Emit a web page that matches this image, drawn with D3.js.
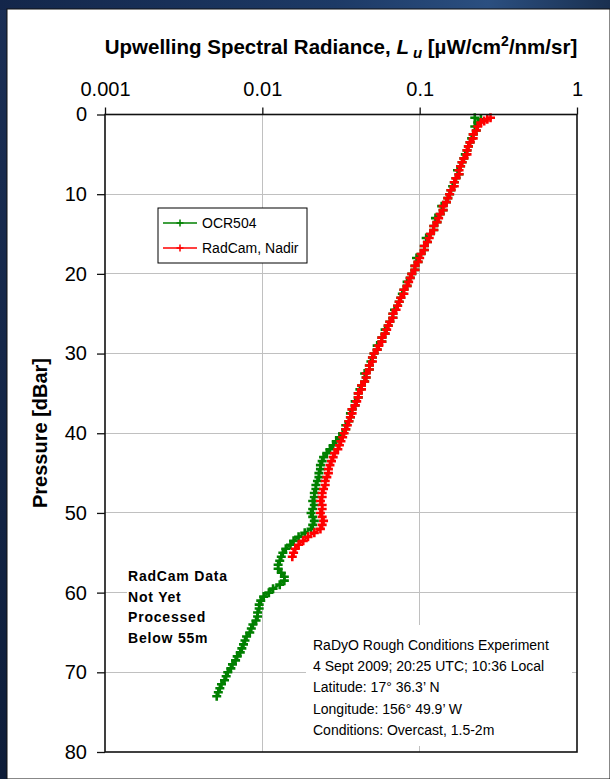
<!DOCTYPE html>
<html>
<head>
<meta charset="utf-8">
<script src="https://cdn.jsdelivr.net/npm/d3@7"></script>
<style>
  html, body { margin: 0; padding: 0; }
  body { width: 610px; height: 779px; overflow: hidden; background: #0d1a33; }
  svg text { font-family: "Liberation Sans", Arial, Helvetica, sans-serif; }
</style>
</head>
<body>
<svg id="chart" width="610" height="779"></svg>
<script>
// OCR504 profile: pressure [dBar] and upwelling radiance Lu [µW/cm²/nm/sr]
const ocrDepth = [0.4,0.6,1,1.5,2,2.5,3,3.5,4,4.5,5,5.5,6,6.5,7,7.5,8,8.5,9,9.5,10,
  10.5,11,11.5,12,12.5,13,13.5,14,14.5,15,15.5,16,16.5,17,17.5,18,18.5,19,19.5,20,
  20.5,21,21.5,22,22.5,23,23.5,24,24.5,25,25.5,26,26.5,27,27.5,28,28.5,29,29.5,30,
  30.5,31,31.5,32,32.5,33,33.5,34,34.5,35,35.5,36,36.5,37,37.5,38,38.5,39,39.5,40,
  40.5,41,41.5,42,42.5,43,43.5,44,44.5,45,45.5,46,46.5,47,47.5,48,
  48.5,49,49.5,50,50.5,51,51.5,52,
  52.5,53,53.5,54,54.5,55,55.5,56,56.5,57,57.5,58,58.5,59,59.5,60,60.5,61,
  61.5,62,62.5,63,63.5,64,64.5,65,65.5,66,66.5,67,67.5,68,68.5,69,69.5,70,70.5,71,71.5,72,72.5,73];
const ocrLu = [0.224,0.245,0.234,0.224,0.229,0.219,0.214,0.209,0.204,0.200,0.195,0.191,0.186,0.182,0.174,0.178,0.170,0.166,0.162,0.158,0.155,
  0.151,0.148,0.138,0.141,0.135,0.126,0.129,0.123,0.123,0.117,0.110,0.112,0.107,0.107,0.102,0.0955,0.0977,0.0933,0.0933,0.0891,
  0.0871,0.0832,0.0832,0.0794,0.0776,0.0759,0.0741,0.0724,0.0692,0.0676,0.0676,0.0646,0.0631,0.0603,0.0603,0.0575,0.0575,0.0537,0.0537,0.0513,
  0.0501,0.0490,0.0479,0.0479,0.0447,0.0457,0.0447,0.0427,0.0417,0.0407,0.0407,0.0389,0.0389,0.0372,0.0363,0.0363,0.0355,0.0339,0.0339,0.0324,
  0.0309,0.0295,0.0282,0.0269,0.0257,0.0245,0.0240,0.0234,0.0234,0.0229,0.0229,0.0224,0.0219,0.0219,0.0214,0.0214,
  0.0209,0.0214,0.0209,0.0204,0.0209,0.0214,0.0209,0.0204,
  0.0186,0.0170,0.0158,0.0151,0.0141,0.0135,0.0132,0.0129,0.0126,0.0126,0.0132,0.0138,0.0138,0.0129,0.0117,0.0110,0.0102,0.00977,
  0.00955,0.00955,0.00933,0.00933,0.00912,0.00871,0.00851,0.00832,0.00794,0.00776,0.00759,0.00741,0.00724,0.00692,0.00676,0.00646,0.00631,0.00603,0.00589,0.00575,0.00550,0.00537,0.00525,0.00513];

// RadCam (nadir) profile, processed down to ~55 m
const radDepth = [0.4,0.6,0.8,1,1.5,2,2.5,3,3.5,4,4.5,5,5.5,6,6.5,7,7.5,8,8.5,9,9.5,10,
  10.5,11,11.5,12,12.5,13,13.5,14,14.5,15,15.5,16,16.5,17,17.5,18,18.5,19,19.5,20,
  20.5,21,21.5,22,22.5,23,23.5,24,24.5,25,25.5,26,26.5,27,27.5,28,28.5,29,29.5,30,
  30.5,31,31.5,32,32.5,33,33.5,34,34.5,35,35.5,36,36.5,37,37.5,38,38.5,39,39.5,40,
  40.5,41,41.5,42,42.5,43,43.5,44,44.5,45,45.5,46,46.5,47,47.5,48,
  48.5,49,49.5,50,50.5,51,51.5,52,
  52.5,53,53.5,54,54.5,55,55.5];
const radLu = [0.282,0.269,0.257,0.245,0.234,0.229,0.219,0.219,0.209,0.204,0.200,0.200,0.191,0.186,0.182,0.178,0.178,0.170,0.166,0.166,0.158,0.155,
  0.151,0.148,0.141,0.141,0.135,0.132,0.129,0.123,0.123,0.117,0.115,0.112,0.107,0.107,0.102,0.100,0.0977,0.0933,0.0933,0.0891,
  0.0871,0.0851,0.0832,0.0794,0.0794,0.0759,0.0741,0.0724,0.0708,0.0676,0.0676,0.0646,0.0631,0.0617,0.0603,0.0575,0.0575,0.0550,0.0537,0.0513,
  0.0501,0.0501,0.0479,0.0479,0.0457,0.0457,0.0447,0.0427,0.0427,0.0407,0.0407,0.0398,0.0389,0.0372,0.0372,0.0363,0.0355,0.0347,0.0339,0.0331,
  0.0324,0.0316,0.0309,0.0302,0.0288,0.0282,0.0275,0.0269,0.0263,0.0263,0.0257,0.0251,0.0251,0.0245,0.0240,0.0240,
  0.0234,0.0240,0.0240,0.0234,0.0240,0.0245,0.0240,0.0234,
  0.0214,0.0195,0.0182,0.0170,0.0162,0.0158,0.0155];

const seriesNames = ["OCR504", "RadCam, Nadir"];
const seriesColors = ["#008000", "#ff0000"];
const luTicks = [0.001, 0.01, 0.1, 1];
const luTickLabels = ["0.001", "0.01", "0.1", "1"];
const pressureTicks = [0, 10, 20, 30, 40, 50, 60, 70, 80];

const noteLines = ["RadCam Data", "Not Yet", "Processed", "Below 55m"];
const infoLines = [
  "RaDyO Rough Conditions Experiment",
  "4 Sept 2009; 20:25 UTC; 10:36 Local",
  "Latitude: 17\u00b0 36.3\u2019 N",
  "Longitude: 156\u00b0 49.9\u2019 W",
  "Conditions: Overcast, 1.5-2m"
];

const svg = d3.select("#chart");
const W = 610, H = 779;
const plot = { left: 105, right: 577, top: 114.5, bottom: 752 };

// dark slide backdrop
const defs = svg.append("defs");
const bg = defs.append("linearGradient").attr("id", "bgGrad")
  .attr("x1", "0").attr("y1", "0").attr("x2", "1").attr("y2", "1");
bg.append("stop").attr("offset", "0%").attr("stop-color", "#1b2f55");
bg.append("stop").attr("offset", "45%").attr("stop-color", "#0f1f3d");
bg.append("stop").attr("offset", "100%").attr("stop-color", "#05080f");
const bgTop = defs.append("linearGradient").attr("id", "bgTop")
  .attr("x1", "0").attr("y1", "0").attr("x2", "1").attr("y2", "0");
bgTop.append("stop").attr("offset", "0%").attr("stop-color", "#13264a");
bgTop.append("stop").attr("offset", "55%").attr("stop-color", "#1d3a66");
bgTop.append("stop").attr("offset", "80%").attr("stop-color", "#2b4f80");
bgTop.append("stop").attr("offset", "100%").attr("stop-color", "#1a3050");
svg.append("rect").attr("width", W).attr("height", H).attr("fill", "url(#bgGrad)");
svg.append("rect").attr("width", W).attr("height", 10).attr("fill", "url(#bgTop)");

// white chart panel
svg.append("rect").attr("x", 7).attr("y", 9).attr("width", W - 7).attr("height", H - 9)
  .attr("fill", "#ffffff").attr("stroke", "#111").attr("stroke-width", 1);

const x = d3.scaleLog().domain([0.001, 1]).range([plot.left, plot.right]);
const y = d3.scaleLinear().domain([0, 80]).range([plot.top, plot.bottom]);

// gridlines
const grid = svg.append("g").attr("stroke", "#c0c0c0").attr("stroke-width", 1).attr("shape-rendering", "crispEdges");
grid.selectAll("line.v").data(luTicks.slice(1, -1)).join("line")
  .attr("x1", d => x(d)).attr("x2", d => x(d)).attr("y1", plot.top).attr("y2", plot.bottom);
grid.selectAll("line.h").data(pressureTicks.slice(1, -1)).join("line")
  .attr("x1", plot.left).attr("x2", plot.right).attr("y1", d => y(d)).attr("y2", d => y(d));

// text boxes sit on white patches that mask the grid
svg.append("rect").attr("x", 127).attr("y", 562).attr("width", 135).attr("height", 90).attr("fill", "#fff");
svg.append("rect").attr("x", 306).attr("y", 625).attr("width", 266).attr("height", 121).attr("fill", "#fff");

// series
const plusPath = s => `M${-s},0H${s}M0,${-s}V${s}`;
function drawSeries(depths, values, color) {
  const pts = depths.map((d, i) => [values[i], d]);
  const g = svg.append("g");
  g.append("path").datum(pts)
    .attr("fill", "none").attr("stroke", color).attr("stroke-width", 2)
    .attr("d", d3.line().x(p => x(p[0])).y(p => y(p[1])));
  g.selectAll("path.m").data(pts).join("path").attr("class", "m")
    .attr("transform", p => `translate(${x(p[0])},${y(p[1])})`)
    .attr("d", plusPath(4.5))
    .attr("stroke", color).attr("stroke-width", 2.6).attr("fill", "none");
}
drawSeries(ocrDepth, ocrLu, seriesColors[0]);
drawSeries(radDepth, radLu, seriesColors[1]);

// plot frame
svg.append("rect").attr("x", plot.left).attr("y", plot.top)
  .attr("width", plot.right - plot.left).attr("height", plot.bottom - plot.top)
  .attr("fill", "none").attr("stroke", "#111").attr("stroke-width", 1.6);

// top axis
const topAxis = d3.axisTop(x).tickValues(luTicks)
  .tickFormat((d, i) => luTickLabels[i]).tickSize(7).tickPadding(12);
const gTop = svg.append("g").attr("transform", `translate(0,${plot.top})`).call(topAxis);
gTop.select(".domain").remove();
gTop.selectAll(".tick line").attr("stroke", "#111").attr("stroke-width", 1.3);
gTop.selectAll(".tick text").attr("fill", "#000").style("font-size", "20px")
  .style("font-family", "'Liberation Sans', Arial, sans-serif");

// left axis
const leftAxis = d3.axisLeft(y).tickValues(pressureTicks).tickSize(8).tickPadding(10);
const gLeft = svg.append("g").attr("transform", `translate(${plot.left},0)`).call(leftAxis);
gLeft.select(".domain").remove();
gLeft.selectAll(".tick line").attr("stroke", "#111").attr("stroke-width", 1.3);
gLeft.selectAll(".tick text").attr("fill", "#000").style("font-size", "20px")
  .style("font-family", "'Liberation Sans', Arial, sans-serif");

// titles
const title = svg.append("text").attr("x", 341).attr("y", 54)
  .attr("text-anchor", "middle").style("font-size", "20.5px").style("font-weight", "bold").attr("fill", "#000");
title.append("tspan").text("Upwelling Spectral Radiance, ");
title.append("tspan").style("font-style", "italic").text("L");
title.append("tspan").style("font-style", "italic").style("font-size", "15px").attr("dx", 4).attr("dy", 4).text("u");
title.append("tspan").attr("dy", -4).text(" [\u00b5W/cm");
title.append("tspan").style("font-size", "14px").attr("dy", -8).text("2");
title.append("tspan").attr("dy", 8).text("/nm/sr]");

svg.append("text").attr("transform", "translate(47,433) rotate(-90)")
  .attr("text-anchor", "middle").style("font-size", "20px").style("font-weight", "bold")
  .attr("fill", "#000").text("Pressure [dBar]");

// legend
const lg = svg.append("g").attr("transform", "translate(158,208)");
lg.append("rect").attr("width", 149).attr("height", 55).attr("fill", "#fff")
  .attr("stroke", "#000").attr("stroke-width", 1);
seriesNames.forEach((name, i) => {
  const cy = 15 + i * 25;
  lg.append("line").attr("x1", 5).attr("x2", 39).attr("y1", cy).attr("y2", cy)
    .attr("stroke", seriesColors[i]).attr("stroke-width", 1.5);
  lg.append("path").attr("transform", `translate(22,${cy})`).attr("d", plusPath(3.5))
    .attr("stroke", seriesColors[i]).attr("stroke-width", 1.5);
  lg.append("text").attr("x", 44).attr("y", cy + 5).style("font-size", "14px")
    .attr("fill", "#000").text(name);
});

// note about unprocessed RadCam data
svg.append("g").selectAll("text").data(noteLines).join("text")
  .attr("x", 128).attr("y", (d, i) => 581 + i * 20.7)
  .style("font-size", "14px").style("font-weight", "bold").style("letter-spacing", "0.8px")
  .attr("fill", "#000").text(d => d);

// cast information
svg.append("g").selectAll("text").data(infoLines).join("text")
  .attr("x", 313).attr("y", (d, i) => 650 + i * 21.2)
  .style("font-size", "14px").attr("fill", "#000").text(d => d);
</script>
</body>
</html>
